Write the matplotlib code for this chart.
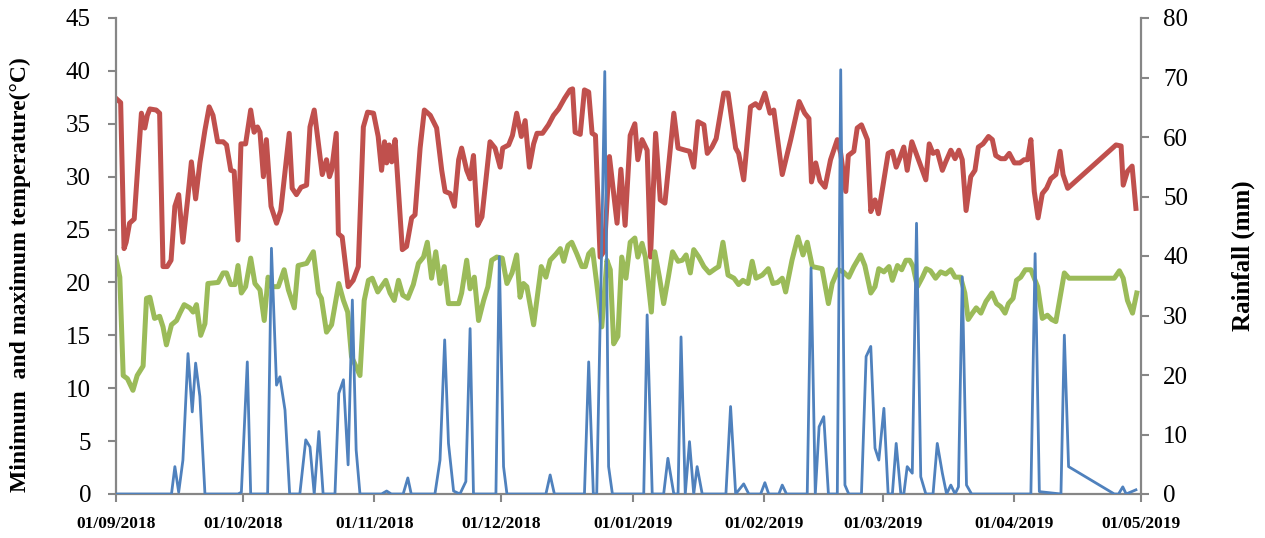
import numpy as np
import matplotlib
matplotlib.use('Agg')
import matplotlib.pyplot as plt

plt.rcParams['font.family'] = ['Liberation Serif', 'DejaVu Serif']

# days counted from 01/09/2018
tmax_day = [0.0, 1.1, 1.9, 2.4, 3.2, 4.3, 6.0, 6.8, 7.4, 8.0, 9.5, 10.3, 11.1, 12.1, 13.0, 13.9,
            14.8, 15.8, 16.9, 17.8, 18.8, 19.8, 21.0, 22.0, 22.9, 24.0, 25.3, 26.1, 27.1, 27.9,
            28.8, 29.5, 30.6, 31.8, 32.6, 33.4, 34.0, 34.8, 35.5, 36.6, 37.9, 38.9, 40.9, 41.6,
            42.6, 43.7, 45.0, 45.8, 46.8, 47.8, 48.7, 49.7, 50.4, 50.9, 52.0, 52.5, 53.4, 54.8,
            56.0, 57.2, 58.4, 59.4, 60.8, 61.9, 62.7, 63.4, 63.9, 64.5, 65.1, 65.9, 67.6, 68.6,
            69.8, 70.6, 71.8, 72.8, 74.2, 75.7, 76.9, 77.7, 78.9, 79.9, 80.9, 81.6, 82.8, 83.6,
            84.4, 85.4, 86.4, 88.3, 89.5, 90.7, 91.3, 92.7, 93.6, 94.6, 95.7, 96.6, 97.6, 98.6,
            99.4, 100.7, 102.1, 103.3, 104.5, 105.9, 107.2, 107.8, 108.4, 109.6, 110.6, 111.6,
            112.4, 113.2, 114.3, 115.3, 116.5, 118.3, 119.2, 120.2, 121.4, 122.5, 123.2, 124.2,
            125.4, 126.2, 127.4, 128.5, 129.6, 131.7, 132.7, 134.4, 135.4, 136.4, 137.4, 138.8,
            139.6, 140.7, 141.7, 143.5, 144.5, 146.3, 147.0, 148.2, 149.8, 151.0, 151.9, 153.2,
            154.4, 155.3, 157.3, 159.3, 161.3, 162.6, 163.6, 164.2, 165.2, 166.2, 167.4, 168.7,
            170.3, 171.1, 172.3, 172.9, 174.2, 175.0, 176.0, 177.4, 178.2, 179.2, 180.0, 180.9,
            182.3, 183.3, 184.2, 185.0, 186.0, 186.8, 187.9, 189.2, 190.2, 191.2, 192.0, 192.9,
            193.9, 195.1, 195.9, 197.1, 198.1, 199.0, 199.8, 200.7, 201.8, 202.8, 203.6, 204.7,
            206.0, 206.9, 207.7, 208.9, 209.9, 210.9, 212.1, 213.4, 214.4, 215.2, 216.0, 216.8,
            217.7, 218.7, 219.7, 220.7, 221.9, 222.9, 223.6, 224.7, 236.1, 237.3, 237.8, 238.8,
            239.9, 240.8]
tmax_val = [37.4, 37.0, 23.2, 23.8, 25.6, 26.0, 36.0, 34.6, 35.8, 36.4, 36.3, 36.0, 21.5, 21.5, 22.1, 27.2,
            28.3, 23.8, 27.8, 31.4, 27.9, 31.3, 34.4, 36.6, 35.8, 33.3, 33.3, 33.0, 30.6, 30.5,
            24.0, 33.1, 33.1, 36.3, 34.2, 34.7, 34.2, 30.0, 33.5, 27.2, 25.6, 26.8, 34.1, 28.9,
            28.3, 29.0, 29.2, 34.7, 36.3, 33.1, 30.2, 31.6, 30.0, 30.6, 34.1, 24.6, 24.3, 19.6,
            20.2, 21.5, 34.7, 36.1, 36.0, 33.8, 30.6, 33.3, 31.3, 33.0, 31.4, 33.5, 23.1, 23.4,
            26.1, 26.4, 32.7, 36.3, 35.8, 34.6, 30.6, 28.6, 28.4, 27.2, 31.6, 32.7, 30.6, 29.8,
            32.0, 25.4, 26.2, 33.3, 32.7, 30.9, 32.7, 33.0, 33.9, 36.0, 33.8, 35.3, 30.9, 33.1,
            34.1, 34.1, 34.9, 35.8, 36.4, 37.4, 38.2, 38.3, 34.2, 34.0, 38.2, 38.0,
            34.1, 33.9, 22.4, 23.0, 31.9, 25.6, 30.7, 25.4, 33.9, 35.0, 31.6, 33.5,
            32.5, 22.4, 34.1, 27.8, 27.5, 36.0, 32.7, 32.5, 32.4, 30.9, 35.2, 34.9,
            32.2, 32.8, 33.6, 37.9, 37.9, 32.7, 32.2, 29.7, 36.6, 36.9, 36.5, 37.9,
            36.0, 36.3, 30.2, 33.5, 37.1, 36.0, 35.5, 29.5, 31.3, 29.6, 29.0, 31.6,
            33.5, 32.2, 28.6, 32.0, 32.4, 34.6, 34.9, 33.5, 26.7, 27.8, 26.5, 28.7,
            32.2, 32.4, 30.9, 31.7, 32.8, 30.6, 33.3, 31.9, 30.8, 29.7, 33.1, 32.2,
            32.4, 30.6, 31.4, 32.5, 31.7, 32.5, 31.6, 26.8, 30.0, 30.6, 32.8, 33.1,
            33.8, 33.5, 32.0, 31.7, 31.7, 32.2, 31.3, 31.3, 31.6, 31.6, 33.5, 28.6,
            26.1, 28.4, 28.9, 29.8, 30.2, 32.4, 30.2, 28.9, 33.0, 32.9, 29.2, 30.5,
            31.0, 27.0]

tmin_day = [0.0, 0.9, 1.7, 2.7, 4.0, 5.0, 6.4, 7.2, 8.0, 9.1, 10.3, 11.1, 11.9, 13.1, 14.3, 15.1,
            16.1, 17.4, 18.2, 19.0, 20.0, 21.0, 21.7, 24.1, 25.3, 26.1, 27.1, 28.1, 28.8, 29.6,
            30.6, 31.8, 32.8, 34.0, 35.0, 35.9, 36.7, 38.3, 39.7, 40.7, 42.1, 43.0, 45.0, 46.6,
            47.8, 48.5, 49.7, 50.9, 52.6, 53.7, 54.7, 55.6, 57.6, 58.6, 59.6, 60.5, 61.8, 63.7,
            64.7, 65.7, 66.7, 67.7, 68.9, 70.2, 71.4, 72.6, 73.5, 74.5, 75.5, 76.5, 77.5, 78.5,
            80.9, 81.6, 82.8, 83.6, 84.6, 85.6, 86.8, 87.8, 88.7, 89.9, 91.2, 92.3, 93.5, 94.6,
            95.4, 96.2, 97.0, 98.6, 100.4, 101.5, 102.5, 103.9, 104.9, 105.7, 106.7, 107.6,
            108.8, 110.0, 110.8, 111.6, 112.5, 113.5, 114.7, 115.9, 116.7, 117.5, 118.5, 119.4,
            120.4, 121.4, 122.5, 123.2, 124.2, 125.0, 126.4, 127.2, 128.3, 129.3, 130.4, 131.4,
            132.7, 133.7, 134.6, 135.6, 136.4, 137.6, 138.8, 140.1, 141.5, 142.3, 143.3, 144.5,
            145.9, 147.0, 148.0, 149.2, 150.2, 151.1, 152.6, 154.0, 155.1, 156.2, 157.3, 158.1,
            159.6, 161.0, 162.2, 163.2, 164.4, 166.7, 168.2, 169.1, 170.5, 171.7, 173.0, 174.2,
            175.8, 176.8, 178.2, 179.2, 180.1, 181.3, 182.5, 183.3, 184.5, 185.5, 186.5, 187.4,
            188.2, 189.2, 190.4, 191.3, 192.3, 193.5, 194.7, 195.9, 197.1, 198.1, 199.4, 200.4,
            201.2, 202.2, 203.1, 204.2, 205.4, 206.8, 207.9, 208.9, 209.9, 210.7, 211.8, 212.6,
            213.6, 214.7, 216.0, 217.6, 218.7, 219.9, 220.9, 221.9, 223.9, 225.0, 235.7, 236.9,
            237.8, 238.8, 240.0, 241.0]
tmin_val = [22.3, 20.5, 11.2, 10.9, 9.8, 11.2, 12.1, 18.5, 18.6, 16.6, 16.8, 15.8, 14.1, 16.0, 16.4, 17.1,
            17.9, 17.6, 17.2, 17.9, 15.0, 16.1, 19.9, 20.0, 20.9, 20.9, 19.8, 19.8, 21.6, 19.0,
            19.6, 22.3, 19.9, 19.3, 16.4, 20.5, 19.6, 19.6, 21.2, 19.3, 17.6, 21.6, 21.8, 22.9,
            19.0, 18.5, 15.3, 16.0, 19.9, 18.3, 17.2, 13.0, 11.2, 18.3, 20.2, 20.4, 19.1, 20.2,
            19.0, 18.3, 20.2, 18.8, 18.5, 19.8, 21.8, 22.4, 23.8, 20.4, 22.9, 19.9, 21.5, 18.0,
            18.0, 19.0, 22.1, 19.4, 20.5, 16.4, 18.3, 19.6, 22.1, 22.4, 22.3, 19.9, 20.9, 22.6,
            18.6, 19.9, 19.6, 16.0, 21.5, 20.5, 22.1, 22.7, 23.2, 22.0, 23.5, 23.8,
            22.7, 21.5, 21.5, 22.7, 23.1, 19.9, 15.8, 22.1, 21.2, 14.2, 14.9, 22.4,
            20.4, 23.8, 24.2, 22.4, 23.7, 22.4, 17.2, 22.9, 20.5, 18.0, 20.5, 22.9,
            22.0, 22.1, 22.6, 20.9, 23.1, 22.4, 21.5, 20.9, 21.3, 21.5, 23.8, 20.7,
            20.4, 19.8, 20.2, 19.9, 22.0, 20.4, 20.7, 21.3, 19.9, 20.0, 20.4, 19.1,
            22.1, 24.3, 22.6, 23.8, 21.5, 21.3, 18.0, 19.9, 21.2, 21.0, 20.5, 21.5,
            22.6, 21.6, 19.0, 19.6, 21.3, 21.0, 21.5, 20.2, 21.6, 21.2, 22.1, 22.1,
            21.5, 19.6, 20.5, 21.3, 21.1, 20.4, 21.0, 20.8, 21.2, 20.5, 20.5, 19.0,
            16.5, 17.1, 17.6, 17.1, 18.2, 19.0, 18.0, 17.7, 17.1, 18.0, 18.5, 20.2,
            20.5, 21.2, 21.2, 19.6, 16.6, 16.9, 16.5, 16.3, 20.9, 20.4, 20.4, 21.1,
            20.4, 18.3, 17.1, 19.0]

rain_day = [0.0, 13.1, 13.9, 14.8, 15.8, 17.0, 18.0, 18.8, 19.8, 21.0, 28.8, 29.6, 31.0, 31.8, 35.8,
            36.7, 37.9, 38.7, 39.9, 41.0, 43.4, 44.8, 45.8, 46.8, 47.9, 48.9, 51.7, 52.6, 53.7,
            54.8, 55.8, 56.7, 57.6, 62.7, 63.9, 65.0, 67.8, 68.9, 69.7, 75.3, 76.5, 77.6, 78.5,
            79.7, 81.2, 82.6, 83.6, 84.4, 89.7, 90.5, 91.5, 92.3, 101.5, 102.5, 103.5, 110.6,
            111.6, 112.7, 113.5, 114.6, 115.4, 116.3, 117.2, 124.6, 125.4, 126.6, 129.3, 130.3,
            131.7, 132.7, 133.4, 134.4, 135.4, 136.4, 137.2, 138.4, 144.0, 145.1, 146.3, 148.2,
            149.4, 152.2, 153.2, 154.1, 156.5, 157.3, 158.3, 163.2, 164.1, 165.1, 166.0, 167.1,
            168.2, 170.3, 171.1, 172.1, 173.0, 176.0, 177.1, 178.2, 179.2, 180.1, 181.3, 182.3,
            183.3, 184.2, 185.3, 186.0, 186.8, 188.0, 189.0, 190.0, 191.2, 192.9, 193.9, 195.1,
            196.1, 197.1, 198.1, 198.9, 199.8, 200.8, 202.0, 216.0, 217.0, 218.0, 223.1, 223.9,
            224.9, 235.7, 236.7, 237.7, 238.5, 240.8]
rain_val = [0, 0, 4.6, 0.3, 5.7, 23.6, 13.8, 22.0, 16.4, 0, 0, 0.3, 22.2, 0, 0,
            41.3, 18.3, 19.7, 14.1, 0, 0, 9.1, 7.9, 0, 10.5, 0, 0, 16.9, 19.2,
            4.9, 32.6, 7.4, 0, 0, 0.5, 0, 0, 2.7, 0, 0, 5.7, 25.9, 8.5,
            0.5, 0, 2.1, 27.8, 0, 0, 39.9, 4.6, 0, 0, 3.2, 0, 0,
            22.2, 0, 0, 39.3, 71.0, 4.6, 0, 0, 30.1, 0, 0, 6.0,
            0, 0, 26.4, 0, 8.8, 0, 4.6, 0, 0, 14.7, 0, 1.7,
            0, 0, 1.9, 0, 0, 1.5, 0, 0, 38.0, 0, 11.3, 13.0,
            0, 0, 71.3, 1.5, 0, 0, 23.1, 24.8, 7.7, 5.7, 14.4, 0,
            0, 8.5, 0, 0, 4.6, 3.5, 45.5, 2.9, 0, 0, 8.5, 3.5,
            0, 1.5, 0, 1.2, 36.5, 1.5, 0, 0, 40.4, 0.4, 0, 26.7,
            4.6, 0, 0, 1.2, 0, 0.7]

tick_days = [0, 30, 61, 91, 122, 153, 181, 212, 242]
tick_labels = ['01/09/2018', '01/10/2018', '01/11/2018', '01/12/2018', '01/01/2019',
               '01/02/2019', '01/03/2019', '01/04/2019', '01/05/2019']

grey = '#868686'

fig = plt.figure(figsize=(12.65, 5.38), dpi=100)
ax = fig.add_axes([116/1265, 44/538, 1025/1265, 476/538])
ax2 = ax.twinx()

ax.plot(tmax_day, tmax_val, color='#C0504D', lw=3.6, solid_joinstyle='round')
ax.plot(tmin_day, tmin_val, color='#9BBB59', lw=3.6, solid_joinstyle='round')
ax2.plot(rain_day, rain_val, color='#4F81BD', lw=2.0, solid_joinstyle='round')

ax.set_xlim(0, 242)
ax.set_ylim(0, 45)
ax2.set_ylim(0, 80)
ax.set_yticks(np.arange(0, 46, 5))
ax2.set_yticks(np.arange(0, 81, 10))
ax.set_xticks(tick_days)
ax.set_xticklabels(tick_labels, fontweight='bold', fontsize=12.5)

for a in (ax, ax2):
    for s in a.spines.values():
        s.set_visible(False)
    a.tick_params(colors=grey, labelcolor='black', width=1.5, length=6, labelsize=18)
ax.spines['left'].set_visible(True)
ax.spines['bottom'].set_visible(True)
ax2.spines['right'].set_visible(True)
for s in (ax.spines['left'], ax.spines['bottom'], ax2.spines['right']):
    s.set_color(grey)
    s.set_linewidth(1.6)
ax.tick_params(axis='x', labelsize=12.5, pad=10)
ax.tick_params(axis='y', pad=12)
ax2.tick_params(axis='y', pad=10)

ax.set_ylabel('Minimum  and maximum temperature(°C)', fontweight='bold', fontsize=17)
ax.yaxis.set_label_coords(-0.083, 0.46)
ax2.set_ylabel('Rainfall (mm)', fontweight='bold', fontsize=18, rotation=90)
ax2.yaxis.set_label_coords(1.088, 0.5)

fig.savefig('out.png', dpi=100)
